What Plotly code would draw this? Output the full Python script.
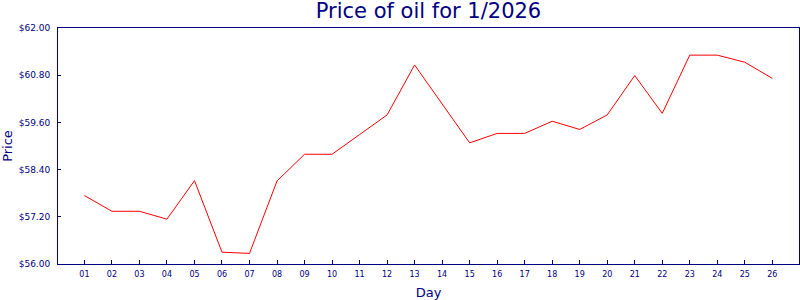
import plotly.graph_objects as go

days = list(range(1, 27))
day_labels = [f"{d:02d}" for d in days]
prices = [57.74, 57.34, 57.34, 57.14, 58.12, 56.30, 56.27, 58.11, 58.79, 58.79,
          59.29, 59.79, 61.06, 60.07, 59.08, 59.32, 59.32, 59.63, 59.42, 59.79,
          60.79, 59.83, 61.31, 61.31, 61.13, 60.72]
y_ticks = [56.0, 57.2, 58.4, 59.6, 60.8, 62.0]
y_labels = [f"${v:.2f}" for v in y_ticks]

navy = "#000080"
fig = go.Figure(go.Scatter(x=days, y=prices, mode="lines",
                           line=dict(color="#ff0000", width=1)))
fig.update_layout(
    width=800, height=300,
    margin=dict(l=58, r=1, t=28, b=36),
    paper_bgcolor="white", plot_bgcolor="white",
    font=dict(family="DejaVu Sans", color=navy, size=8),
    showlegend=False,
    title=dict(text="Price of oil for 1/2026", x=0.5, xref="paper", xanchor="center",
               y=0.965, yref="container", yanchor="middle",
               font=dict(size=21, color=navy, family="DejaVu Sans")),
)
fig.update_xaxes(
    range=[0.04, 26.97], tickvals=days, ticktext=day_labels,
    ticks="inside", ticklen=4, tickcolor=navy, tickwidth=1,
    showline=True, linecolor=navy, linewidth=1, mirror=True,
    showgrid=False, zeroline=False, ticklabelstandoff=2,
    title=dict(text="Day", font=dict(size=13, color=navy), standoff=10),
)
fig.update_yaxes(
    range=[56, 62], tickvals=y_ticks, ticktext=y_labels,
    ticks="inside", ticklen=3, tickcolor=navy, tickwidth=1,
    showline=True, linecolor=navy, linewidth=1, mirror=True,
    showgrid=False, zeroline=False, ticklabelstandoff=5,
    tickfont=dict(size=9),
    title=dict(text="Price", font=dict(size=13, color=navy), standoff=3),
)
fig.write_html("out.html")
